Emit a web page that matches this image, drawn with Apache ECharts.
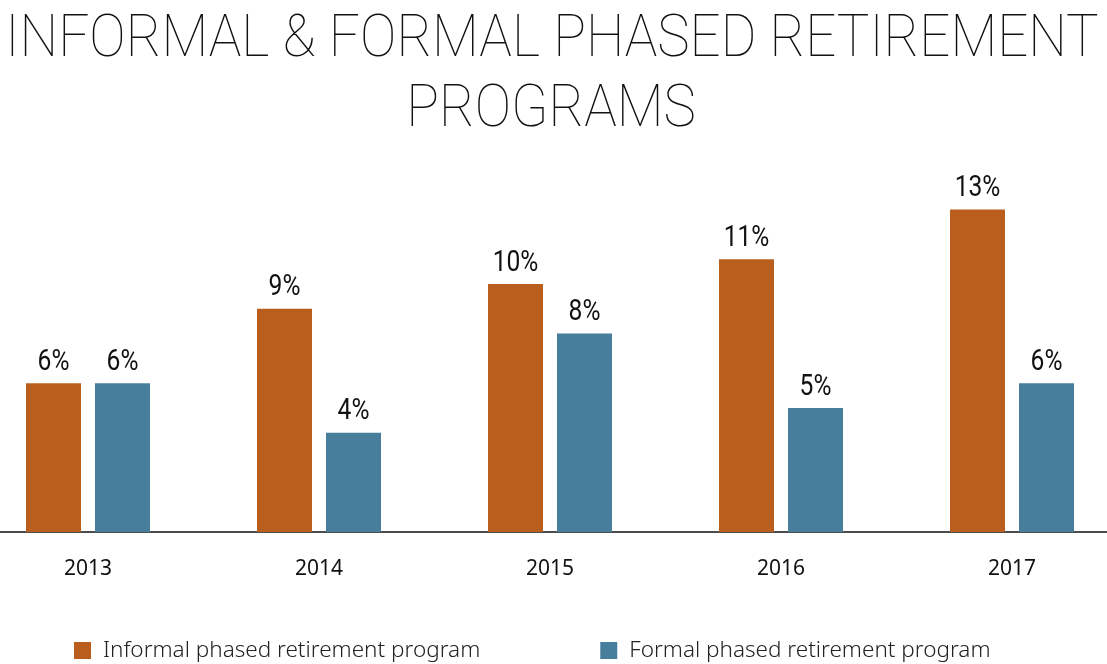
<!DOCTYPE html>
<html><head><meta charset="utf-8">
<script src="https://cdn.jsdelivr.net/npm/echarts@6/dist/echarts.min.js"></script>
<style>html,body{margin:0;padding:0;background:#fff}#c{width:1107px;height:664px}</style>
</head><body><div id="c"></div>
<script>
const titleLines = ["INFORMAL & FORMAL PHASED RETIREMENT", "PROGRAMS"];
const years = ["2013", "2014", "2015", "2016", "2017"];
const informal = [6, 9, 10, 11, 13];
const formal = [6, 4, 8, 5, 6];
const seriesNames = ["Informal phased retirement program", "Formal phased retirement program"];

const BAR_W = 55, BAR_GAP = 14;
const chart = echarts.init(document.getElementById('c'), null, {renderer: 'canvas'});

function labelSeries(values, side) {
  return {
    type: 'custom', silent: true, z: 5,
    data: values.map((v, i) => [i, v]),
    renderItem: (params, api) => {
      const p = api.coord([api.value(0), api.value(1)]);
      const off = side * (BAR_W + BAR_GAP) / 2;
      return {
        type: 'text', x: p[0] + off, y: p[1] - 6, scaleX: 0.82, scaleY: 1,
        style: {text: api.value(1) + '%', textAlign: 'center', textVerticalAlign: 'bottom',
          font: '400 30px Roboto, sans-serif', fill: '#111'}
      };
    }
  };
}

chart.setOption({
  animation: false,
  graphic: [
    {type: 'text', x: 552, y: 12, scaleX: 0.925, style: {text: titleLines[0], textAlign: 'center', font: '100 59px Roboto, Lato, sans-serif', fill: '#111'}},
    {type: 'text', x: 551, y: 82, scaleX: 0.925, style: {text: titleLines[1], textAlign: 'center', font: '100 59px Roboto, Lato, sans-serif', fill: '#111'}}
  ],
  legend: {
    top: 634, left: 69, itemWidth: 17, itemHeight: 17, itemGap: 120,
    icon: 'rect',
    textStyle: {fontFamily: '"Noto Sans", sans-serif', fontSize: 22.5, color: '#222', fontWeight: 300, padding: [0, 0, 0, 7]},
    data: seriesNames
  },
  grid: {left: -27.5, width: 1155, top: 160, bottom: 132, containLabel: false, outerBoundsMode: 'none'},
  xAxis: {
    type: 'category', data: years,
    axisLine: {lineStyle: {color: '#111', width: 1.5}},
    axisTick: {show: false},
    axisLabel: {margin: 27, fontFamily: '"Noto Sans", sans-serif', fontSize: 21, color: '#111'}
  },
  yAxis: {type: 'value', min: 0, max: 15, show: false, splitLine: {show: false}},
  series: [
    {name: seriesNames[0], type: 'bar', data: informal, barWidth: BAR_W, barGap: (BAR_GAP / BAR_W * 100) + '%', itemStyle: {color: '#B95E1C'}},
    {name: seriesNames[1], type: 'bar', data: formal, barWidth: BAR_W, itemStyle: {color: '#467E9C'}},
    labelSeries(informal, -1),
    labelSeries(formal, 1)
  ]
});
</script></body></html>
